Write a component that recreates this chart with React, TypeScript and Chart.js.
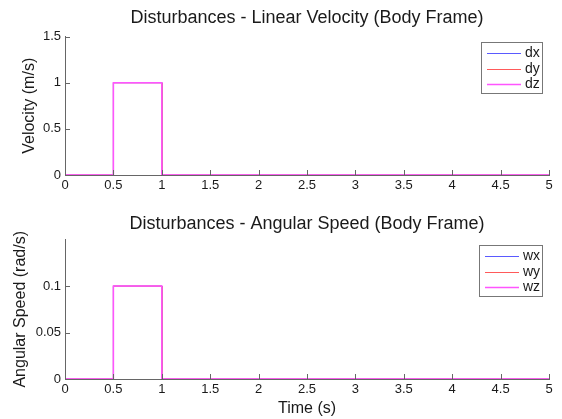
import React, { useEffect, useRef } from 'react';
import { Chart, registerables } from 'chart.js';

Chart.register(...registerables);

// ---- data ----
const timeS = [0, 0.5, 0.5, 1, 1, 5];
const dxVals = [0, 0, 1, 1, 0, 0];
const dyVals = [0, 0, 1, 1, 0, 0];
const dzVals = [0, 0, 1, 1, 0, 0];
const wxVals = [0, 0, 0.1, 0.1, 0, 0];
const wyVals = [0, 0, 0.1, 0.1, 0, 0];
const wzVals = [0, 0, 0.1, 0.1, 0, 0];
const linLabels = ['dx', 'dy', 'dz'];
const angLabels = ['wx', 'wy', 'wz'];
const xTickVals = [0, 0.5, 1, 1.5, 2, 2.5, 3, 3.5, 4, 4.5, 5];
const velTickVals = [0, 0.5, 1, 1.5];
const angTickVals = [0, 0.05, 0.1];

const FONT = '"Liberation Sans", Arial, Helvetica, sans-serif';
const AXIS_COLOR = '#666666';
const TEXT_COLOR = '#1a1a1a';
const seriesColors = ['#5a5aff', '#ff5a5a', '#ff55ff'];
const seriesWidths = [1, 1, 1.5];
const seriesOrder = [2, 1, 0];

const fmt = (v: any) => String(Number(Number(v).toFixed(6)));

const inwardTicks = {
  id: 'inwardTicks',
  afterDraw(chart: any) {
    const { ctx, chartArea } = chart;
    const xs = chart.scales.x;
    const ys = chart.scales.y;
    ctx.save();
    ctx.strokeStyle = AXIS_COLOR;
    ctx.lineWidth = 1;
    ctx.beginPath();
    xs.ticks.forEach((t: any) => {
      const px = Math.round(xs.getPixelForValue(t.value)) + 0.5;
      ctx.moveTo(px, chartArea.bottom);
      ctx.lineTo(px, chartArea.bottom - 5);
    });
    ys.ticks.forEach((t: any) => {
      const py = Math.round(ys.getPixelForValue(t.value)) + 0.5;
      ctx.moveTo(chartArea.left, py);
      ctx.lineTo(chartArea.left + 5, py);
    });
    ctx.stroke();
    ctx.restore();
  },
};

const insideLegend = {
  id: 'insideLegend',
  afterDraw(chart: any) {
    const { ctx, chartArea } = chart;
    const dsets = chart.data.datasets;
    ctx.save();
    ctx.font = `14px ${FONT}`;
    const textW = Math.max(...dsets.map((d: any) => ctx.measureText(d.label).width));
    const padL = 6, lineLen = 34, gap = 4, padR = 3;
    const rowH = 15.5;
    const w = Math.round(padL + lineLen + gap + textW + padR);
    const h = Math.round(11 + rowH * (dsets.length - 1) + 10);
    const x = Math.round(chartArea.right - 6 - w);
    const y = Math.round(chartArea.top + 5);
    ctx.fillStyle = '#ffffff';
    ctx.fillRect(x, y, w, h);
    ctx.strokeStyle = '#777777';
    ctx.lineWidth = 1;
    ctx.strokeRect(x + 0.5, y + 0.5, w - 1, h - 1);
    dsets.forEach((d: any, i: number) => {
      const cy = Math.round(y + 11 + i * rowH) + 0.5;
      ctx.strokeStyle = d.borderColor;
      ctx.lineWidth = d.borderWidth;
      ctx.beginPath();
      ctx.moveTo(x + padL, cy);
      ctx.lineTo(x + padL + lineLen, cy);
      ctx.stroke();
      ctx.fillStyle = TEXT_COLOR;
      ctx.textBaseline = 'middle';
      ctx.textAlign = 'left';
      ctx.fillText(d.label, x + padL + lineLen + gap, cy);
    });
    ctx.restore();
  },
};

function makeConfig(opts: {
  title: string;
  labels: string[];
  series: number[][];
  yMax: number;
  yTicks: number[];
  yTitle: string;
  yTitlePad: number;
  xTitle?: string;
  xHeight: number;
  titlePadTop: number;
  titlePadBottom: number;
}) {
  return {
    type: 'line' as const,
    data: {
      datasets: opts.series.map((vals, i) => ({
        label: opts.labels[i],
        data: timeS.map((t, k) => ({ x: t, y: vals[k] })),
        borderColor: seriesColors[i],
        borderWidth: seriesWidths[i],
        order: seriesOrder[i],
        pointRadius: 0,
        fill: false,
        tension: 0,
      })),
    },
    options: {
      responsive: false,
      animation: false as const,
      layout: { padding: { left: 0, right: 13, top: 0, bottom: 0 } },
      plugins: {
        legend: { display: false },
        tooltip: { enabled: false },
        title: {
          display: true,
          text: opts.title,
          fullSize: false,
          color: TEXT_COLOR,
          font: { family: FONT, size: 18, weight: 'normal' as const },
          padding: { top: opts.titlePadTop, bottom: opts.titlePadBottom },
        },
      },
      scales: {
        x: {
          type: 'linear' as const,
          min: 0,
          max: 5,
          afterBuildTicks: (s: any) => {
            s.ticks = xTickVals.map((v) => ({ value: v }));
          },
          afterFit: (s: any) => {
            s.height = opts.xHeight;
          },
          grid: { display: false, drawTicks: false },
          border: { display: true, color: AXIS_COLOR, width: 1 },
          ticks: {
            color: TEXT_COLOR,
            font: { family: FONT, size: 13 },
            padding: 3,
            maxRotation: 0,
            autoSkip: false,
            callback: fmt,
          },
          title: opts.xTitle
            ? {
                display: true,
                text: opts.xTitle,
                color: TEXT_COLOR,
                font: { family: FONT, size: 16 },
                padding: { top: 2, bottom: 1 },
              }
            : { display: false },
        },
        y: {
          type: 'linear' as const,
          min: 0,
          max: opts.yMax,
          afterBuildTicks: (s: any) => {
            s.ticks = opts.yTicks.map((v) => ({ value: v }));
          },
          afterFit: (s: any) => {
            s.width = 65;
          },
          grid: { display: false, drawTicks: false },
          border: { display: true, color: AXIS_COLOR, width: 1 },
          ticks: {
            color: TEXT_COLOR,
            font: { family: FONT, size: 13 },
            padding: 4,
            callback: fmt,
          },
          title: {
            display: true,
            text: opts.yTitle,
            color: TEXT_COLOR,
            font: { family: FONT, size: 16 },
            padding: { top: opts.yTitlePad, bottom: 0 },
          },
        },
      },
    },
    plugins: [inwardTicks, insideLegend],
  };
}

function ChartCanvas({ config, width, height }: { config: any; width: number; height: number }) {
  const ref = useRef<HTMLCanvasElement | null>(null);
  useEffect(() => {
    if (!ref.current) return;
    const chart = new Chart(ref.current, config);
    return () => chart.destroy();
  }, [config]);
  return <canvas ref={ref} width={width} height={height} style={{ display: 'block' }} />;
}

const topConfig = makeConfig({
  title: 'Disturbances - Linear Velocity (Body Frame)',
  labels: linLabels,
  series: [dxVals, dyVals, dzVals],
  yMax: 1.5,
  yTicks: velTickVals,
  yTitle: 'Velocity (m/s)',
  yTitlePad: 20,
  xHeight: 34,
  titlePadTop: 7,
  titlePadBottom: 8,
});

const bottomConfig = makeConfig({
  title: 'Disturbances - Angular Speed (Body Frame)',
  labels: angLabels,
  series: [wxVals, wyVals, wzVals],
  yMax: 0.15,
  yTicks: angTickVals,
  yTitle: 'Angular Speed (rad/s)',
  yTitlePad: 11,
  xTitle: 'Time (s)',
  xHeight: 40,
  titlePadTop: 4,
  titlePadBottom: 5,
});

export default function App() {
  return (
    <div style={{ position: 'absolute', left: 0, top: 0, width: 562, height: 419, background: '#ffffff' }}>
      <ChartCanvas config={topConfig} width={562} height={209} />
      <ChartCanvas config={bottomConfig} width={562} height={210} />
    </div>
  );
}
